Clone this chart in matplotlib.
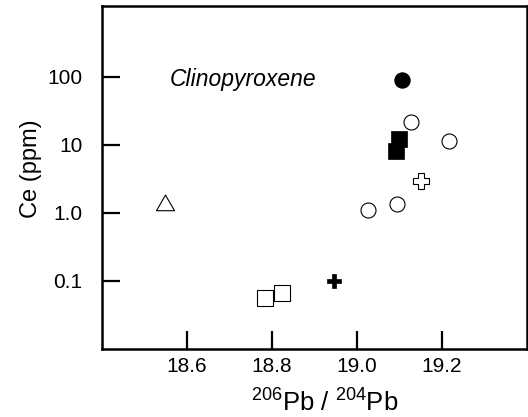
import matplotlib.pyplot as plt

plt.rcParams['font.family'] = ['Liberation Sans', 'DejaVu Sans']
plt.rcParams['mathtext.fontset'] = 'custom'
plt.rcParams['mathtext.rm'] = 'Liberation Sans'

# Dane (206Pb/204Pb, Ce ppm)
kolko_pelne_x = [19.105]
kolko_pelne_y = [91]
kolka_puste_x = [19.128, 19.216, 19.025, 19.094]
kolka_puste_y = [22, 11.5, 1.1, 1.36]
kwadraty_pelne_x = [19.099, 19.091]
kwadraty_pelne_y = [12.2, 8.2]
kwadraty_puste_x = [18.783, 18.823]
kwadraty_puste_y = [0.056, 0.067]
trojkat_x = [18.549]
trojkat_y = [1.3]
krzyz_pelny_x = [18.946]
krzyz_pelny_y = [0.1]
krzyz_pusty_x = [19.15]
krzyz_pusty_y = [2.9]

y_ticki = [0.1, 1, 10, 100]
y_etykiety = ['0.1', '1.0', '10', '100']
x_ticki = [18.6, 18.8, 19.0, 19.2]
x_etykiety = ['18.6', '18.8', '19.0', '19.2']

fig = plt.figure(figsize=(5.28, 4.17), dpi=100)
ax = fig.add_axes([102 / 528, 68 / 417, 425 / 528, 343 / 417])

ax.plot(kolka_puste_x, kolka_puste_y, 'o', ms=10.8, mfc='white', mec='black', mew=0.8, ls='none')
ax.plot(kolko_pelne_x, kolko_pelne_y, 'o', ms=10.8, mfc='black', mec='black', ls='none')
ax.plot(kwadraty_pelne_x, kwadraty_pelne_y, 's', ms=11, mfc='black', mec='black', mew=0.5, ls='none')
ax.plot(kwadraty_puste_x, kwadraty_puste_y, 's', ms=11.5, mfc='white', mec='black', mew=0.8, ls='none')
# trojkat rownoboczny (zamkniety kontur)
trojkat = [(-1, -0.577), (1, -0.577), (0, 1.155), (-1, -0.577)]
ax.plot(trojkat_x, trojkat_y, marker=trojkat, ms=15, mfc='white', mec='black', mew=0.8, ls='none')
ax.plot(krzyz_pelny_x, krzyz_pelny_y, 'P', ms=10.6, mfc='black', mec='black', mew=0.5, ls='none')
ax.plot(krzyz_pusty_x, krzyz_pusty_y, 'P', ms=12, mfc='white', mec='black', mew=0.8, ls='none')

ax.set_yscale('log')
ax.set_xlim(18.4, 19.4)
ax.set_ylim(0.01, 1100)
ax.set_yticks(y_ticki, y_etykiety)
ax.minorticks_off()
ax.set_xticks(x_ticki, x_etykiety)

for s in ax.spines.values():
    s.set_linewidth(1.8)
ax.tick_params(direction='in', length=13, width=1.6, labelsize=15)
ax.tick_params(axis='y', pad=14)
ax.tick_params(axis='x', pad=6)

ax.text(0.332, 0.767, 'Clinopyroxene', transform=ax.transAxes, ha='center',
        va='baseline', fontsize=16.5, style='italic')

ax.set_ylabel('Ce (ppm)', fontsize=17)
ax.yaxis.set_label_coords(-0.141, 0.525)
ax.set_xlabel(r'$\mathregular{^{206}}$Pb / $\mathregular{^{204}}$Pb', fontsize=18.5)
ax.xaxis.set_label_coords(0.525, -0.118)

plt.savefig('out.png', dpi=100)
